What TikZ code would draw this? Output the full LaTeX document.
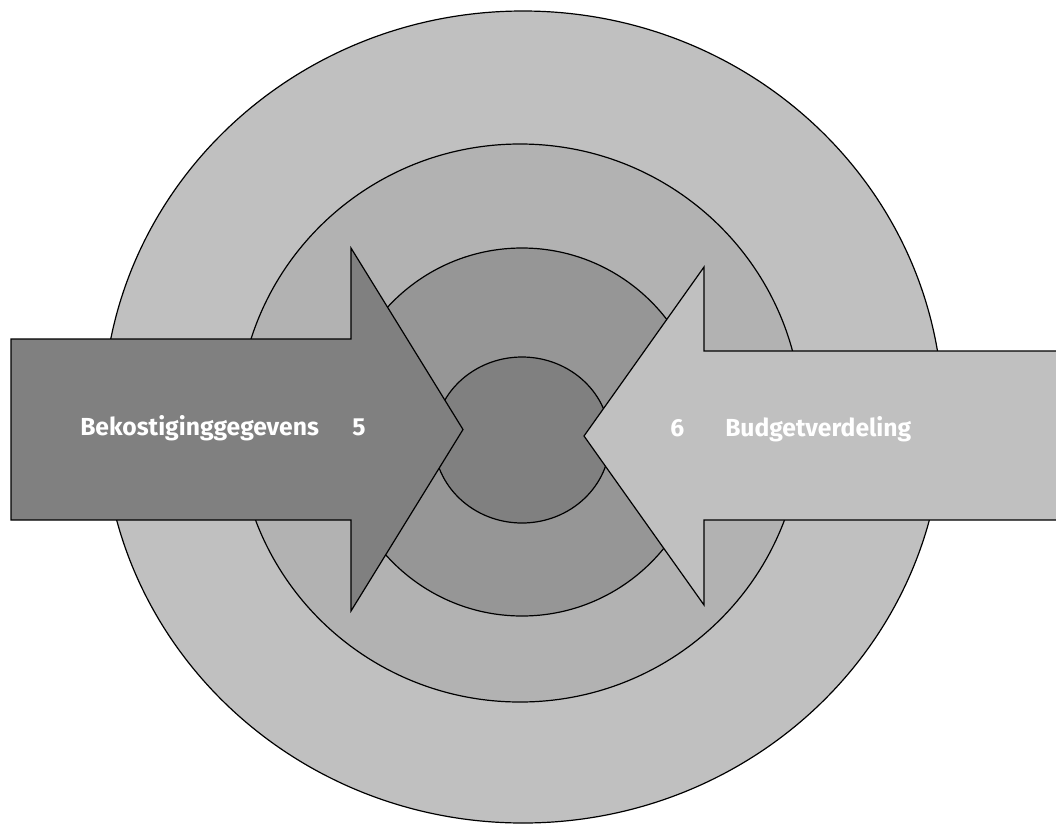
\documentclass[tikz,border=0pt]{standalone}
\usepackage{fontspec}
\setsansfont{Fira Sans}
\usepackage{tikz}
\usetikzlibrary{positioning,calc}
\definecolor{ringouter}{RGB}{192,192,192}
\definecolor{ringmid}{RGB}{178,178,178}
\definecolor{ringinner}{RGB}{150,150,150}
\definecolor{ringcore}{RGB}{128,128,128}

\begin{document}
\begin{tikzpicture}[
    x=0.75pt, y=-0.75pt,
    ring/.style={draw=black, line width=0.9pt},
    flow/.style={draw=black, line width=0.9pt, line join=miter},
    txt/.style={anchor=base west, inner sep=0pt, text=white, font=\sffamily\bfseries\fontsize{18.5}{22}\selectfont}
]
    \clip (0,0) rectangle (1056,825);

    % rings
    \path[ring, fill=ringouter] (523,417) ellipse [x radius=420, y radius=406];
    \path[ring, fill=ringmid] (520,423) ellipse [x radius=282, y radius=279];
    \path[ring, fill=ringinner] (522,432) ellipse [x radius=183, y radius=184];
    \path[ring, fill=ringcore] (522,440) ellipse [x radius=88, y radius=83];

    % incoming arrow
    \path[flow, fill=ringcore] (11,339) -- (351,339) -- (351,248) -- (463,429.5)
        -- (351,611) -- (351,520) -- (11,520) -- cycle;
    % outgoing arrow
    \path[flow, fill=ringouter] (1070,351) -- (704,351) -- (704,267) -- (584,436)
        -- (704,605) -- (704,520) -- (1070,520) -- cycle;

    \node[txt] (bekost) at (80,435) {Bekostiginggegevens};
    \node[txt] (nrfive) at (352,435) {5};
    \node[txt] (nrsix) at (670,436) {6};
    \node[txt] (budget) at (725,436) {Budgetverdeling};
\end{tikzpicture}
\end{document}
